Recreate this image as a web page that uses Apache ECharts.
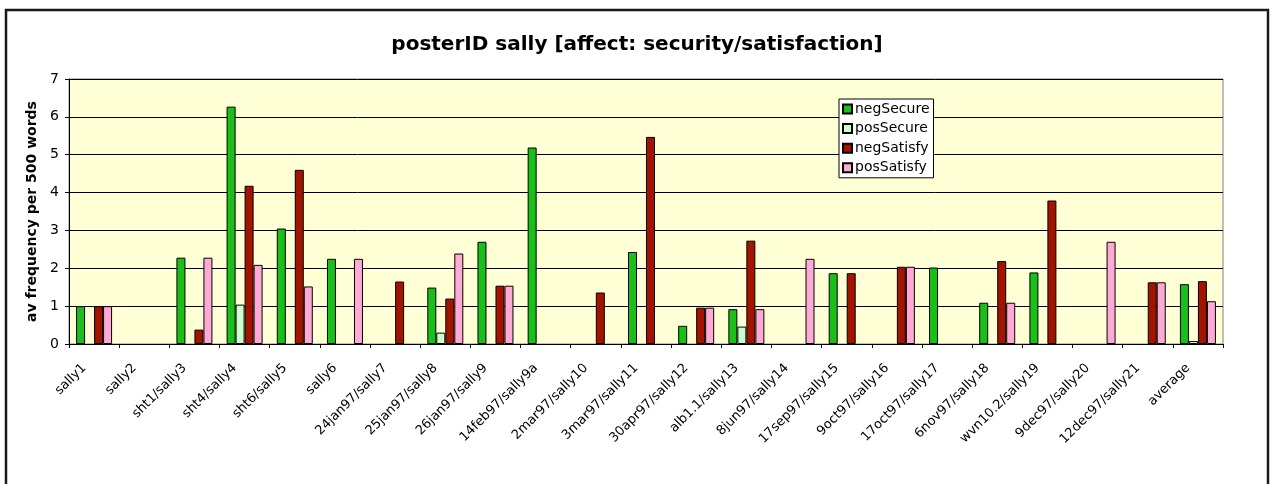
<!DOCTYPE html>
<html>
<head>
<meta charset="utf-8">
<script src="https://cdn.jsdelivr.net/npm/echarts@6/dist/echarts.min.js"></script>
<style>
  html, body { margin: 0; padding: 0; background: #ffffff; }
  #chart { width: 1274px; height: 484px; }
</style>
</head>
<body>
<div id="chart"></div>
<script>
// Postings by sally: frequencies of security / satisfaction affect words
const categories = [
  'sally1', 'sally2', 'sht1/sally3', 'sht4/sally4', 'sht6/sally5', 'sally6',
  '24jan97/sally7', '25jan97/sally8', '26jan97/sally9', '14feb97/sally9a',
  '2mar97/sally10', '3mar97/sally11', '30apr97/sally12', 'alb1.1/sally13',
  '8jun97/sally14', '17sep97/sally15', '9oct97/sally16', '17oct97/sally17',
  '6nov97/sally18', 'wvn10.2/sally19', '9dec97/sally20', '12dec97/sally21',
  'average'
];
const negSecure  = [1.0, 0, 2.28, 6.27, 3.05, 2.25, 0, 1.49, 2.70, 5.19, 0, 2.43, 0.48, 0.92, 0, 1.87, 0, 2.02, 1.09, 1.89, 0, 0, 1.58];
const posSecure  = [0, 0, 0, 1.04, 0, 0, 0, 0.30, 0, 0, 0, 0, 0, 0.46, 0, 0, 0, 0, 0, 0, 0, 0, 0.08];
const negSatisfy = [1.0, 0, 0.38, 4.18, 4.60, 0, 1.65, 1.20, 1.54, 0, 1.36, 5.47, 0.96, 2.73, 0, 1.87, 2.04, 0, 2.19, 3.79, 0, 1.63, 1.66];
const posSatisfy = [1.0, 0, 2.28, 2.09, 1.52, 2.25, 0, 2.39, 1.54, 0, 0, 0, 0.96, 0.92, 2.25, 0, 2.04, 0, 1.09, 0, 2.70, 1.63, 1.13];
const yTicks = [0, 1, 2, 3, 4, 5, 6, 7];

const FONT = '"DejaVu Sans", Verdana, sans-serif';

// zero entries are simply not drawn
const toBars = arr => arr.map(v => (v === 0 ? '-' : v));

function barSeries(name, values, color) {
  return {
    name: name,
    type: 'bar',
    data: toBars(values),
    barWidth: 9,
    barGap: '0%',
    itemStyle: { color: color, borderColor: '#000000', borderWidth: 1 },
    emphasis: { disabled: true }
  };
}

const chart = echarts.init(document.getElementById('chart'), null, { renderer: 'canvas' });
chart.setOption({
  animation: false,
  backgroundColor: '#ffffff',
  textStyle: { fontFamily: FONT },
  graphic: [{
    type: 'rect',
    shape: { x: 6, y: 10, width: 1262, height: 500 },
    style: { fill: 'none', stroke: '#1a1a1a', lineWidth: 2.5 },
    z: 100
  }],
  title: {
    text: 'posterID sally [affect: security/satisfaction]',
    left: 'center',
    top: 30,
    textStyle: { fontFamily: FONT, fontSize: 20, fontWeight: 'bold', color: '#000000' }
  },
  legend: {
    orient: 'vertical',
    left: 839,
    top: 99,
    padding: [2, 4, 2, 3],
    itemGap: 3.6,
    itemWidth: 9,
    itemHeight: 9,
    icon: 'rect',
    backgroundColor: '#ffffff',
    borderColor: '#000000',
    borderWidth: 1,
    textStyle: { fontFamily: FONT, fontSize: 14, color: '#000000', padding: [0, 0, 0, -2], lineHeight: 16 },
    data: ['negSecure', 'posSecure', 'negSatisfy', 'posSatisfy']
  },
  grid: {
    left: 69, right: 51, top: 79, bottom: 140,
    show: true,
    backgroundColor: '#FFFFD5',
    borderColor: '#808080',
    borderWidth: 1
  },
  xAxis: {
    type: 'category',
    data: categories,
    boundaryGap: true,
    axisLine: { show: true, lineStyle: { color: '#000000', width: 1 } },
    axisTick: { show: true, alignWithLabel: false, length: 4, lineStyle: { color: '#000000' } },
    axisLabel: {
      rotate: 45, interval: 0, fontFamily: FONT, fontSize: 13, color: '#000000',
      margin: 12, padding: [0, 14, 0, 0]
    },
    splitLine: { show: false }
  },
  yAxis: {
    type: 'value',
    min: yTicks[0],
    max: yTicks[yTicks.length - 1],
    interval: 1,
    name: 'av frequency per 500 words',
    nameLocation: 'middle',
    nameGap: 26,
    nameTextStyle: { fontFamily: FONT, fontSize: 14, fontWeight: 'bold', color: '#000000' },
    axisLine: { show: true, lineStyle: { color: '#000000', width: 1 } },
    axisTick: { show: true, length: 4, lineStyle: { color: '#000000' } },
    axisLabel: { fontFamily: FONT, fontSize: 14, color: '#000000', margin: 10 },
    splitLine: { show: true, lineStyle: { color: '#000000', width: 1 } }
  },
  series: [
    barSeries('negSecure', negSecure, '#1ABF1A'),
    barSeries('posSecure', posSecure, '#CCFFCC'),
    barSeries('negSatisfy', negSatisfy, '#A21400'),
    barSeries('posSatisfy', posSatisfy, '#FFAAD5')
  ]
});
</script>
</body>
</html>
